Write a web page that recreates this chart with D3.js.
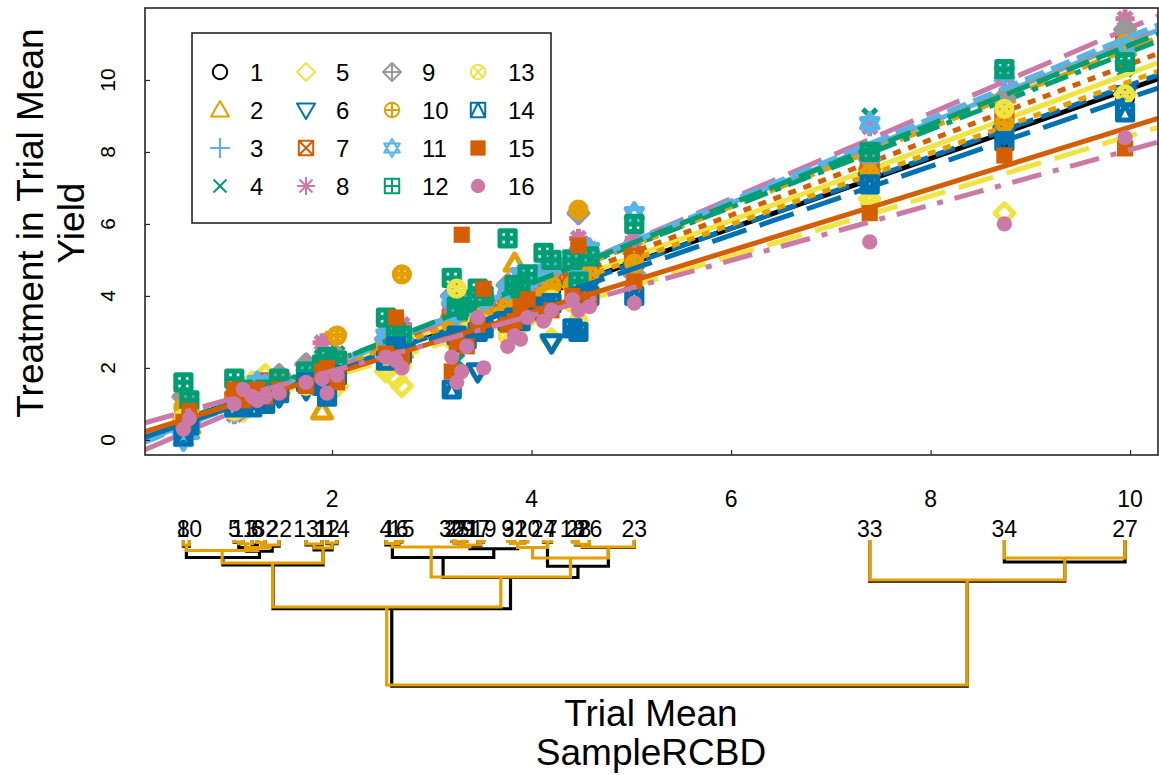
<!DOCTYPE html>
<html>
<head>
<meta charset="utf-8">
<script src="https://cdnjs.cloudflare.com/ajax/libs/d3/7.8.5/d3.min.js"></script>
<style>
  body { margin: 0; background: #fff; }
  svg { display: block; font-family: "Liberation Sans", Arial, sans-serif; }
</style>
</head>
<body>
<svg id="chart" width="1159" height="775"></svg>
<script>
// treatments (legend entries)
var treatments = ["1","2","3","4","5","6","7","8","9","10","11","12","13","14","15","16"];

// trials and their means (x position)
var trialIds = [1,2,3,4,5,6,7,8,9,10,11,12,13,14,15,16,17,18,19,20,21,22,23,24,25,26,27,28,29,30,31,32,33,34];
var trialMeans = [1.90,3.89,1.20,2.54,1.02,1.25,4.20,0.51,3.76,0.57,1.11,1.95,1.74,2.05,2.70,2.64,3.46,4.41,3.52,3.96,3.35,1.47,5.03,4.12,3.25,4.58,9.95,4.47,3.30,3.20,3.83,1.33,7.39,8.74];

// treatment yield in each trial (row = trial, col = treatment)
var yields = [
  [1.9,0.8,2.1,2.3,1.9,1.6,2.0,2.7,2.2,2.0,2.1,2.1,1.6,1.5,1.9,1.7],
  [3.9,4.3,4.4,4.2,3.8,3.6,4.0,4.5,4.3,3.8,4.6,4.2,3.2,3.3,3.7,2.8],
  [1.3,1.1,1.2,1.4,1.6,1.0,1.2,1.1,1.3,1.0,1.2,1.3,1.1,0.9,1.3,1.2],
  [2.5,2.8,2.7,2.9,1.9,2.3,2.6,3.0,2.8,2.6,2.9,3.4,2.0,2.2,2.4,2.3],
  [1.0,1.2,0.8,1.3,0.9,0.8,1.1,0.7,1.0,1.1,0.8,1.7,0.8,0.9,1.4,1.0],
  [1.2,1.4,1.3,1.1,1.5,1.2,1.0,1.3,1.4,1.2,1.6,1.2,1.0,1.1,1.4,1.1],
  [4.2,4.6,4.8,4.5,2.8,2.7,4.4,4.9,4.7,4.3,4.9,5.0,3.9,3.8,3.6,3.6],
  [0.5,0.8,0.1,0.5,0.6,0.2,0.4,0.3,1.2,0.9,0.0,1.6,0.6,0.1,0.5,0.3],
  [3.8,4.1,4.0,4.2,3.6,3.5,3.9,4.2,4.3,3.7,4.2,5.6,2.9,3.3,3.2,2.6],
  [0.6,0.4,0.3,0.9,0.5,0.4,0.6,0.4,0.5,0.6,0.2,1.1,0.7,0.4,0.8,0.6],
  [1.2,1.0,1.1,1.2,0.8,1.0,1.3,1.0,1.2,1.3,0.9,1.4,0.9,1.0,1.1,1.4],
  [2.0,2.7,2.0,2.1,1.7,1.3,2.2,2.3,2.0,2.2,2.2,2.3,1.7,1.2,2.0,1.3],
  [1.8,1.9,1.7,2.0,1.6,1.4,1.8,1.9,2.1,1.7,1.8,1.9,1.5,1.6,1.5,1.6],
  [2.1,2.2,2.3,2.4,1.5,1.8,2.2,2.0,2.3,2.9,2.0,2.2,1.7,1.8,1.6,1.8],
  [2.7,2.5,2.8,3.0,1.5,2.6,3.0,3.2,2.8,4.6,2.9,2.9,2.1,2.4,2.3,2.0],
  [2.6,2.9,3.0,2.8,1.7,2.4,2.7,3.1,2.9,2.5,3.1,3.0,2.2,2.6,3.4,2.2],
  [3.5,3.7,3.9,3.8,3.4,1.9,3.6,3.8,3.7,3.5,4.0,4.2,3.3,3.0,3.2,3.4],
  [4.4,4.9,5.0,4.7,4.3,4.2,4.6,5.0,4.9,4.3,5.1,5.0,3.8,3.1,4.0,3.9],
  [3.5,3.8,3.9,3.7,3.6,3.3,3.6,3.9,3.8,3.4,3.9,4.0,3.2,3.1,4.2,2.0],
  [4.0,4.4,4.5,4.3,4.1,3.7,4.1,4.3,4.4,3.9,4.4,4.6,3.4,3.6,3.9,3.4],
  [3.4,3.6,3.7,3.8,3.2,3.1,3.6,3.9,3.8,3.3,3.7,3.6,3.0,2.8,2.6,2.6],
  [1.5,1.7,1.6,1.4,1.3,1.2,1.4,1.6,1.8,1.5,1.5,1.7,1.3,1.3,1.4,1.3],
  [4.9,5.4,5.5,5.3,5.4,4.7,5.1,5.6,4.6,4.9,6.3,6.0,4.3,4.0,4.4,3.8],
  [4.1,4.5,4.7,4.4,3.9,3.9,4.3,4.5,4.6,4.0,4.7,5.2,3.5,3.7,3.5,3.3],
  [3.2,3.5,3.6,2.2,3.4,3.0,3.5,3.6,3.7,3.1,3.5,3.7,4.2,2.9,2.7,1.6],
  [4.5,5.0,5.2,4.9,4.7,4.3,4.8,5.3,5.1,4.6,5.3,5.1,3.9,4.0,3.9,3.7],
  [9.5,10.9,10.5,10.3,9.6,9.6,11.1,11.7,11.4,11.0,10.9,10.5,9.6,9.1,8.1,8.4],
  [4.1,4.5,4.6,4.3,4.0,3.6,4.2,5.6,6.3,6.4,4.5,4.4,3.3,3.0,5.4,3.6],
  [3.3,3.7,3.6,3.5,3.1,2.9,3.4,3.6,3.7,3.2,3.8,3.9,2.9,2.7,5.7,1.9],
  [3.3,3.6,3.8,3.5,3.0,3.1,3.4,3.7,4.0,3.2,3.9,4.5,2.8,1.4,1.9,2.3],
  [3.8,4.9,4.2,4.1,3.7,3.5,3.9,4.4,4.2,3.9,4.3,4.3,3.3,3.4,3.3,2.9],
  [1.4,1.3,1.5,1.2,1.8,1.1,1.6,1.3,1.4,1.2,1.5,1.4,1.2,1.0,1.2,1.2],
  [7.2,7.7,7.9,9.0,6.7,7.2,7.6,8.7,7.8,7.4,8.8,8.0,6.6,7.1,6.3,5.5],
  [8.4,9.6,10.0,9.4,6.3,8.5,9.0,10.1,9.5,8.8,10.2,10.3,9.2,8.3,7.9,6.0]
];

// stability fit for each treatment
var fitIntercept = [0.06,-0.11,-0.16,0.00,-0.05,-0.09,-0.05,-0.42,-0.16,0.01,-0.21,-0.06,0.08,-0.04,0.12,0.38];
var fitSlope = [0.970,1.098,1.123,1.078,1.024,0.995,1.049,1.187,1.128,0.995,1.142,1.103,0.837,0.955,0.857,0.768];

var xTicks = [2,4,6,8,10];
var yTicks = [0,2,4,6,8,10];

// dendrograms of trials: [height, left, right], leaves are trial ids
var orangeTree = [5.8,
  [2.68,
    [0.92,
      [0.42, [0.2, 8, 10], [0.3, [0.15, [0.08, 5, 11], 3], [0.2, [0.1, 6, 32], 22]]],
      [0.32, [0.16, 13, 1], [0.12, 12, 14]]],
    [1.48,
      [0.28, [0.14, 4, [0.06, 16, 15]], [0.2, [0.12, [0.05, 30, 25], [0.05, 29, 21]], [0.06, 17, 19]]],
      [0.72,
        [0.3, [0.14, [0.06, 9, 31], [0.07, 2, 20]], [0.08, 24, 7]],
        [0.28, [0.17, [0.06, 18, 28], 26], 23]]]],
  [1.6, 33, [0.72, 34, 27]]];

var blackTree = [5.85,
  [2.75,
    [1.0,
      [0.7, [0.25, 8, 10], [0.45, [0.3, [0.1, 5, 11], [0.2, 3, 6]], [0.25, 32, 22]]],
      [0.4, [0.2, 13, 1], [0.15, 12, 14]]],
    [1.5,
      [0.7, [0.2, 4, [0.08, 16, 15]],
        [0.35, [0.22, [0.12, [0.05, 30, 25], [0.06, 29, 21]], [0.08, 17, 19]],
               [0.14, [0.06, 9, 31], [0.07, 2, 20]]]],
      [1.05, [0.1, 24, 7], [0.3, [0.2, [0.07, 18, 28], 26], 23]]]],
  [1.65, 33, [0.88, 34, 27]]];

// styles
var colors = ["#000000","#E69F00","#56B4E9","#009E73","#F0E442","#0072B2","#D55E00","#CC79A7",
              "#999999","#E69F00","#56B4E9","#009E73","#F0E442","#0072B2","#D55E00","#CC79A7"];
var markers = ["o","^","+","x","d","v","sx","*","d+","o+","h","s+","ox","s^","sf","of"];
var dashes = [null,"20,8",null,"24,8,6,8",null,"20,8","8,8","36,14",
              "20,8","8,8","20,8","24,8","36,14","36,14",null,"30,12,6,12"];

var width = 1159, height = 775;
var plot = {left: 145, top: 8, right: 1158, bottom: 455};

var svg = d3.select("#chart");
svg.append("rect").attr("width", width).attr("height", height).attr("fill", "#fff");

var x = d3.scaleLinear().domain([0.125, 10.28]).range([plot.left, plot.right]);
var y = d3.scaleLinear().domain([-0.42, 12.0]).range([plot.bottom, plot.top]);

svg.append("clipPath").attr("id", "clip")
  .append("rect").attr("x", plot.left).attr("y", plot.top)
  .attr("width", plot.right - plot.left).attr("height", plot.bottom - plot.top);

function markerPath(type, r) {
  var c = 0.8 * r, s = 0.8 * r, k = 0.72 * r;
  var circ = function(q) { return "M" + (-q) + ",0A" + q + "," + q + " 0 1,0 " + q + ",0A" + q + "," + q + " 0 1,0 " + (-q) + ",0Z"; };
  var square = function(q) { return "M" + (-q) + "," + (-q) + "H" + q + "V" + q + "H" + (-q) + "Z"; };
  var plus = function(q) { return "M" + (-q) + ",0H" + q + "M0," + (-q) + "V" + q; };
  var cross = function(q) { return "M" + (-q) + "," + (-q) + "L" + q + "," + q + "M" + q + "," + (-q) + "L" + (-q) + "," + q; };
  var diamond = "M0," + (-r) + "L" + r + ",0L0," + r + "L" + (-r) + ",0Z";
  switch (type) {
    case "o": return circ(c);
    case "^": return "M0," + (-r) + "L" + r + "," + (0.72 * r) + "L" + (-r) + "," + (0.72 * r) + "Z";
    case "v": return "M0," + r + "L" + r + "," + (-0.72 * r) + "L" + (-r) + "," + (-0.72 * r) + "Z";
    case "+": return plus(1.1 * r);
    case "x": return cross(k);
    case "d": return diamond;
    case "sx": return square(s) + cross(s);
    case "*": return plus(r) + cross(k);
    case "d+": return diamond + plus(r);
    case "o+": return circ(c) + plus(c);
    case "h": return "M0," + (-r) + "L" + (0.866 * r) + "," + (0.5 * r) + "L" + (-0.866 * r) + "," + (0.5 * r) + "Z" +
                     "M0," + r + "L" + (0.866 * r) + "," + (-0.5 * r) + "L" + (-0.866 * r) + "," + (-0.5 * r) + "Z";
    case "s+": return square(s) + plus(s);
    case "ox": return circ(c) + cross(c * 0.707);
    case "s^": return square(s) + "M0," + (-s) + "L" + s + "," + s + "M0," + (-s) + "L" + (-s) + "," + s;
    case "sf": return square(0.85 * r);
    case "of": return circ(c);
  }
}

function drawMarker(g, i, px, py, r, sw) {
  var filled = markers[i] === "sf" || markers[i] === "of";
  g.append("path")
    .attr("transform", "translate(" + px + "," + py + ")")
    .attr("d", markerPath(markers[i], r))
    .attr("fill", filled ? colors[i] : "none")
    .attr("stroke", filled ? "none" : colors[i])
    .attr("stroke-width", sw)
    .attr("stroke-linejoin", "round");
}

// points and fitted lines, one treatment after another
var body = svg.append("g").attr("clip-path", "url(#clip)");
var line = d3.line().x(function(d) { return x(d[0]); }).y(function(d) { return y(d[1]); });

treatments.forEach(function(t, i) {
  var g = body.append("g");
  trialIds.forEach(function(id, j) {
    drawMarker(g, i, x(trialMeans[j]), y(yields[j][i]), 9.5, 5);
  });
  var xs = x.domain();
  g.append("path")
    .attr("d", line(xs.map(function(v) { return [v, fitIntercept[i] + fitSlope[i] * v]; })))
    .attr("fill", "none")
    .attr("stroke", colors[i])
    .attr("stroke-width", 5)
    .attr("stroke-dasharray", dashes[i]);
});

// frame and inner ticks
svg.append("rect")
  .attr("x", plot.left).attr("y", plot.top)
  .attr("width", plot.right - plot.left).attr("height", plot.bottom - plot.top)
  .attr("fill", "none").attr("stroke", "#262626").attr("stroke-width", 1.6);

var xAxis = svg.append("g").attr("transform", "translate(0," + plot.bottom + ")")
  .call(d3.axisBottom(x).tickValues(xTicks).tickSize(-5).tickFormat(""));
var yAxis = svg.append("g").attr("transform", "translate(" + plot.left + ",0)")
  .call(d3.axisLeft(y).tickValues(yTicks).tickSize(-5).tickFormat(""));
[xAxis, yAxis].forEach(function(a) {
  a.select(".domain").remove();
  a.selectAll("line").attr("stroke", "#262626").attr("stroke-width", 1.2);
});

// y tick labels (rotated)
svg.append("g").selectAll("text").data(yTicks).join("text")
  .attr("transform", function(d) { return "translate(115," + y(d) + ") rotate(-90)"; })
  .attr("text-anchor", "middle")
  .attr("font-size", 21)
  .text(function(d) { return d; });

// y title
svg.append("text").attr("transform", "translate(43,223) rotate(-90)")
  .attr("text-anchor", "middle").attr("font-size", 37).text("Treatment in Trial Mean");
svg.append("text").attr("transform", "translate(84,223) rotate(-90)")
  .attr("text-anchor", "middle").attr("font-size", 37).text("Yield");

// legend
var legend = svg.append("g");
legend.append("rect").attr("x", 192).attr("y", 33).attr("width", 359).attr("height", 190)
  .attr("fill", "#fff").attr("stroke", "#262626").attr("stroke-width", 1.6);
var legCols = [220, 306, 392, 478], legRows = [72, 110, 148, 186];
treatments.forEach(function(t, i) {
  var cx = legCols[Math.floor(i / 4)], cy = legRows[i % 4];
  drawMarker(legend, i, cx, cy, 9, 2);
  legend.append("text").attr("x", cx + 30).attr("y", cy + 9)
    .attr("font-size", 24).text(t);
});

// x tick labels
svg.append("g").selectAll("text").data(xTicks).join("text")
  .attr("x", function(d) { return x(d); }).attr("y", 507)
  .attr("text-anchor", "middle").attr("font-size", 23)
  .text(function(d) { return d; });

// trial labels (they overlap where trial means are close, as in the original)
svg.append("g").selectAll("text").data(trialIds).join("text")
  .attr("x", function(d, j) { return x(trialMeans[j]); }).attr("y", 537)
  .attr("text-anchor", "middle").attr("font-size", 23)
  .text(function(d) { return d; });

// dendrograms
var hy = d3.scaleLinear().domain([0, 5.8]).range([540, 685]);
function drawTree(node, g, color) {
  if (typeof node === "number") {
    return {x: x(trialMeans[trialIds.indexOf(node)]), y: hy(0)};
  }
  var a = drawTree(node[1], g, color), b = drawTree(node[2], g, color);
  var yy = hy(node[0]);
  g.append("path")
    .attr("d", "M" + a.x + "," + a.y + "V" + yy + "H" + b.x + "V" + b.y)
    .attr("fill", "none").attr("stroke", color).attr("stroke-width", 3.2);
  return {x: (a.x + b.x) / 2, y: yy};
}
drawTree(blackTree, svg.append("g"), "#000000");
drawTree(orangeTree, svg.append("g"), "#E69F00");

// bottom title
svg.append("text").attr("x", 651).attr("y", 726).attr("text-anchor", "middle")
  .attr("font-size", 37).text("Trial Mean");
svg.append("text").attr("x", 651).attr("y", 765).attr("text-anchor", "middle")
  .attr("font-size", 37).text("SampleRCBD");
</script>
</body>
</html>
